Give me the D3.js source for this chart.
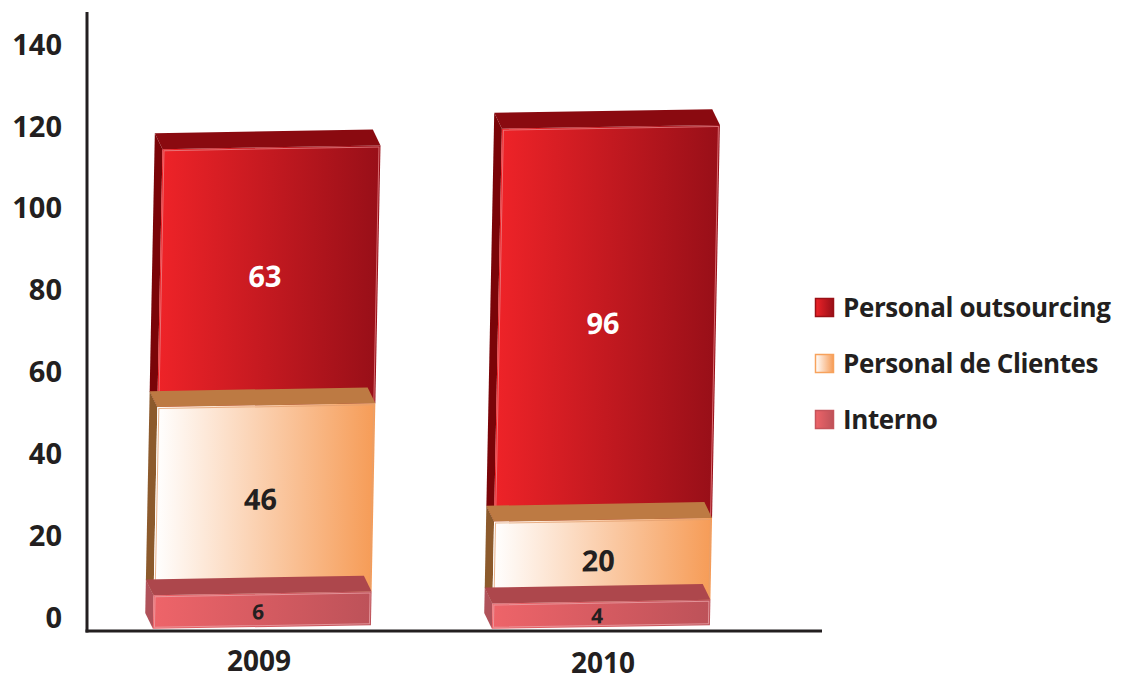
<!DOCTYPE html>
<html>
<head>
<meta charset="utf-8">
<script src="https://cdn.jsdelivr.net/npm/d3@7/dist/d3.min.js"></script>
<style>
  html, body { margin: 0; padding: 0; background: #fff; }
  svg { display: block; }
  text { font-family: "Open Sans", "Liberation Sans", sans-serif; font-weight: 700; fill: #231f20; }
</style>
</head>
<body>
<svg id="chart" width="1125" height="681"></svg>
<script>
// ---- data ----
const years = ["2009", "2010"];
const seriesNames = ["Interno", "Personal de Clientes", "Personal outsourcing"];
const interno = [6, 4];
const clientes = [46, 20];
const outsourcing = [63, 96];
const yTicks = [0, 20, 40, 60, 80, 100, 120, 140];
const legendOrder = ["Personal outsourcing", "Personal de Clientes", "Interno"];

// ---- build table ----
const table = years.map((yr, i) => ({
  year: yr,
  "Interno": interno[i],
  "Personal de Clientes": clientes[i],
  "Personal outsourcing": outsourcing[i]
}));
const stacked = d3.stack().keys(seriesNames)(table);

const svg = d3.select("#chart");
const defs = svg.append("defs");

const styles = {
  "Personal outsourcing": { g0: "#ee2328", g1: "#980f18", top: "#8a0a10", side: "#7a0408", edge: "#e88488", label: "#ffffff", size: 29 },
  "Personal de Clientes": { g0: "#ffffff", g1: "#f69c57", top: "#bd7a43", side: "#8c5a2c", edge: "#e3a070", label: "#231f20", size: 29 },
  "Interno": { g0: "#ee6469", g1: "#bd5259", top: "#ad474c", side: "#b0525a", edge: "#eaa3a8", label: "#231f20", size: 21 }
};
seriesNames.forEach((k, i) => {
  const s = styles[k];
  const g = defs.append("linearGradient").attr("id", "grad" + i)
    .attr("x1", "0%").attr("x2", "100%").attr("y1", "0%").attr("y2", "0%");
  g.append("stop").attr("offset", "0%").attr("stop-color", s.g0);
  g.append("stop").attr("offset", "100%").attr("stop-color", s.g1);
  s.grad = "url(#grad" + i + ")";
});

// ---- scales ----
const y = d3.scaleLinear().domain([0, 140]).range([618, 45]);
const x = d3.scalePoint().domain(years).range([97.5, 775.5]).padding(0.5);
const barW = 218, dx = -8, dy = -16;
const axisX = 87, axisY = 631;

// ---- axis ----
const yAxis = d3.axisLeft(y).tickValues(yTicks).tickSize(0).tickPadding(25);
const ag = svg.append("g").attr("transform", `translate(${axisX},0)`).call(yAxis);
ag.select(".domain").remove();
ag.selectAll("text").attr("font-size", 29).attr("font-family", "Open Sans").attr("font-weight", 700).attr("fill", "#231f20");

svg.append("line").attr("x1", axisX).attr("x2", axisX).attr("y1", 12).attr("y2", axisY + 1.5)
  .attr("stroke", "#231f20").attr("stroke-width", 3);
svg.append("line").attr("x1", axisX - 1.5).attr("x2", 822).attr("y1", axisY).attr("y2", axisY)
  .attr("stroke", "#231f20").attr("stroke-width", 3);

// ---- bars ----
years.forEach((yr, i) => {
  const cx = x(yr);
  const gBar = svg.append("g")
    .attr("transform", `translate(${cx},${y(60)}) matrix(1,-0.017,-0.02,1,0,0) translate(${-cx},${-y(60)})`);
  const x0 = cx - barW / 2, x1 = cx + barW / 2;
  // draw from top segment downwards so lower top faces overlap
  for (let k = stacked.length - 1; k >= 0; k--) {
    const key = stacked[k].key;
    const s = styles[key];
    const d = stacked[k][i];
    const yT = y(d[1]);
    const yB = k === 0 ? axisY - 4 : y(d[0]);
    // left side
    gBar.append("polygon")
      .attr("points", [[x0, yT], [x0 + dx, yT + dy], [x0 + dx, yB + dy], [x0, yB]].map(p => p.join(",")).join(" "))
      .attr("fill", s.side);
    // front
    gBar.append("rect").attr("x", x0).attr("y", yT).attr("width", barW).attr("height", yB - yT)
      .attr("fill", s.grad);
    gBar.append("rect").attr("x", x0 + 1.5).attr("y", yT + 1.5).attr("width", barW - 3).attr("height", Math.max(0, yB - yT - 3))
      .attr("fill", "none").attr("stroke", s.edge).attr("stroke-width", 1).attr("opacity", 0.8);
    // top face
    gBar.append("polygon")
      .attr("points", [[x0, yT], [x1, yT], [x1 + dx, yT + dy], [x0 + dx, yT + dy]].map(p => p.join(",")).join(" "))
      .attr("fill", s.top);
  }
  // labels
  for (let k = 0; k < stacked.length; k++) {
    const key = stacked[k].key;
    const s = styles[key];
    const d = stacked[k][i];
    const v = d[1] - d[0];
    let ym = (y(d[0]) + y(d[1])) / 2;
    if (k === 0) ym += 6;
    gBar.append("text").attr("x", cx - 4).attr("y", ym).attr("dy", "0.36em")
      .attr("text-anchor", "middle").attr("font-size", s.size)
      .style("fill", s.label).text(v);
  }
  // year label
  svg.append("text").attr("x", cx - 8 - i * (-5)).attr("y", 661 + i * 2).attr("dy", "0.36em")
    .attr("text-anchor", "middle").attr("font-size", 28).text(yr);
});

// ---- legend ----
const lg = svg.append("g").attr("transform", "translate(815,298)");
legendOrder.forEach((name, j) => {
  const s = styles[name];
  const row = lg.append("g").attr("transform", `translate(0,${j * 56})`);
  row.append("rect").attr("x", 0.5).attr("y", 0.5).attr("width", 18).attr("height", 18)
    .attr("fill", s.grad)
    .attr("stroke", name === "Personal de Clientes" ? "#f7a25c" : (name === "Interno" ? "#c5545b" : "#9a1016"))
    .attr("stroke-width", 1.5);
  row.append("text").attr("x", 28).attr("y", 10).attr("dy", "0.36em")
    .attr("font-size", 26).attr("letter-spacing", "-0.4").text(name);
});
</script>
</body>
</html>
